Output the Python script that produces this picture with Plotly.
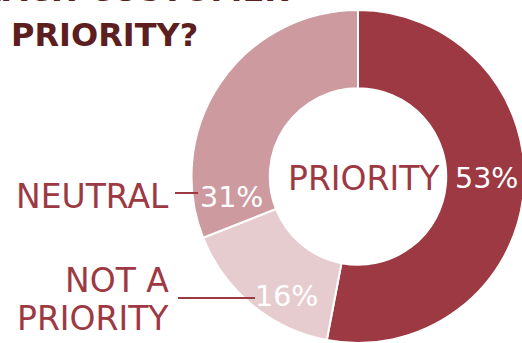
import plotly.graph_objects as go

# Survey answers, clockwise from 12 o'clock
categories = ["PRIORITY", "NOT A PRIORITY", "NEUTRAL"]
shares = [53, 16, 31]
slice_colors = ["#9D3943", "#E7CCCF", "#CD9B9F"]

title_lines = ["EACH CUSTOMER", "PRIORITY?"]

W, H = 526, 344
FONT = "DejaVu Sans"
LABEL_RED = "#9D3943"
TITLE_RED = "#5C1E1E"


def px(x, y):
    """Pixel position -> paper coordinates."""
    return x / W, 1 - y / H


fig = go.Figure()

cx0, cy0 = px(191.5, 343)
cx1, cy1 = px(524.5, 10)
fig.add_trace(go.Pie(
    labels=categories,
    values=shares,
    sort=False,
    direction="clockwise",
    rotation=0,
    hole=0.53,
    marker=dict(colors=slice_colors, line=dict(color="white", width=2)),
    textinfo="none",
    hoverinfo="label+percent",
    showlegend=False,
    domain=dict(x=[cx0, cx1], y=[cy0, cy1]),
))

annotations = []


def note(text, x, y, size, color, xanchor="center", bold=False):
    ax, ay = px(x, y)
    annotations.append(dict(
        text=f"<b>{text}</b>" if bold else text,
        x=ax, y=ay, xref="paper", yref="paper",
        xanchor=xanchor, yanchor="middle", showarrow=False,
        font=dict(family=FONT, size=size, color=color),
    ))


share = dict(zip(categories, shares))

# Title, first line partly above the top edge
note(title_lines[0], 291, -10, 32, TITLE_RED, xanchor="right", bold=True)
note(title_lines[1], 9, 35, 32, TITLE_RED, xanchor="left", bold=True)

# Centre label and in-ring percentages
note("PRIORITY", 364, 178, 33, LABEL_RED)
note(f"{share['PRIORITY']}%", 486, 178, 28.5, "white")
note(f"{share['NEUTRAL']}%", 231, 197, 28.5, "white")
note(f"{share['NOT A PRIORITY']}%", 286, 296, 28.5, "white")

# Outside category names
note("NEUTRAL", 171, 196, 33, LABEL_RED, xanchor="right")
note("NOT A", 171, 280, 33, LABEL_RED, xanchor="right")
note("PRIORITY", 171, 318, 33, LABEL_RED, xanchor="right")

shapes = []
for (x0, x1, y) in [(175, 198, 193), (178, 255, 298)]:
    a0, b = px(x0, y)
    a1, _ = px(x1, y)
    shapes.append(dict(type="line", xref="paper", yref="paper",
                       x0=a0, x1=a1, y0=b, y1=b,
                       line=dict(color=LABEL_RED, width=2)))

fig.update_layout(
    width=W, height=H,
    margin=dict(l=0, r=0, t=0, b=0),
    paper_bgcolor="white",
    plot_bgcolor="white",
    annotations=annotations,
    shapes=shapes,
)

fig.write_html(
    "out.html",
    config={"displayModeBar": False},
    post_script="document.body.style.margin='0';"
                "document.body.style.overflow='hidden';"
                "document.documentElement.style.overflow='hidden';",
)
